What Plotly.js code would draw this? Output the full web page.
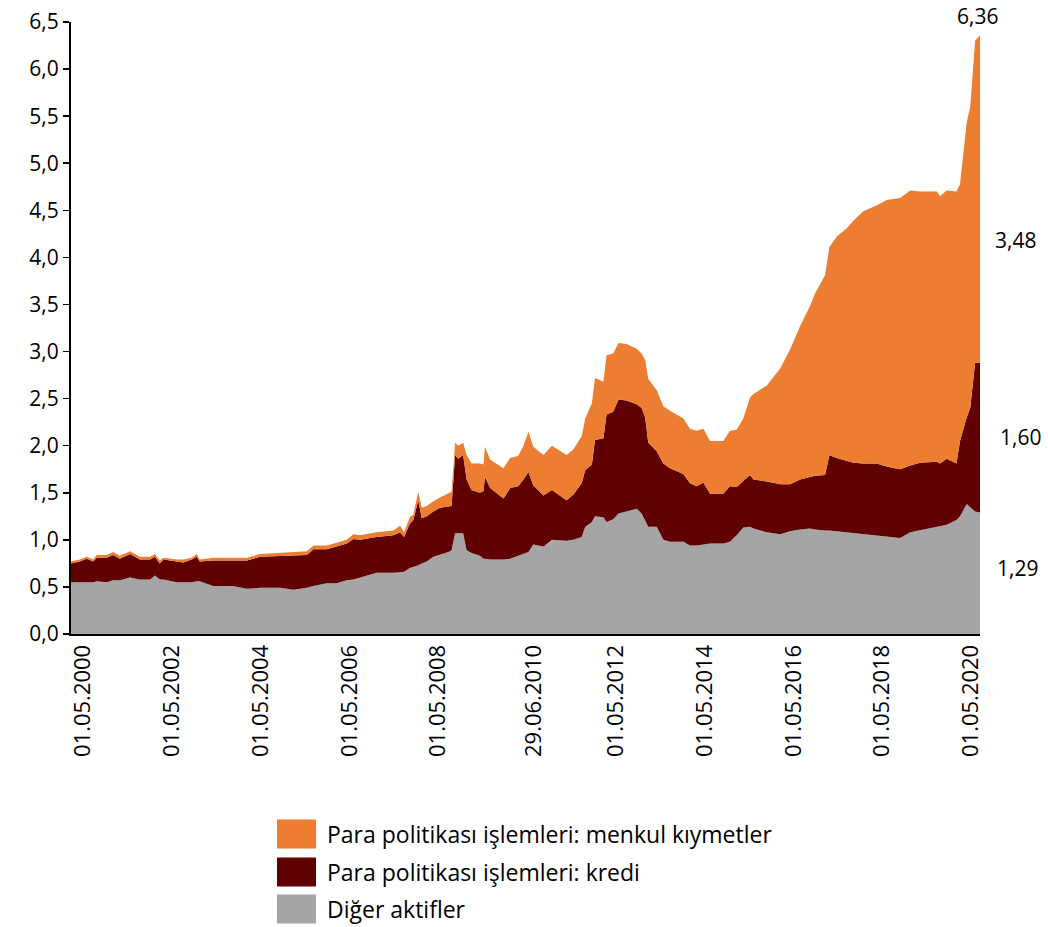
<!DOCTYPE html>
<html>
<head>
<meta charset="utf-8">
<script src="https://cdn.plot.ly/plotly-3.0.1.min.js"></script>
<style>html,body{margin:0;padding:0;background:#fff;}#chart{width:1048px;height:927px;}</style>
</head>
<body>
<div id="chart"></div>
<script>
// Dates as decimal years
const dates = [2000.06,2000.26,2000.41,2000.56,2000.64,2000.86,2001.01,2001.16,2001.39,2001.61,2001.84,2001.95,2002.06,2002.14,2002.44,2002.59,2002.78,2002.89,2002.96,2003.26,2003.71,2004.02,2004.32,2004.77,2005.07,2005.37,2005.52,2005.82,2006.04,2006.27,2006.42,2006.57,2006.94,2007.32,2007.47,2007.56,2007.69,2007.77,2007.88,2007.96,2008.07,2008.22,2008.37,2008.56,2008.63,2008.71,2008.78,2008.89,2008.97,2009.08,2009.27,2009.35,2009.38,2009.50,2009.80,2009.95,2010.13,2010.25,2010.36,2010.47,2010.70,2010.89,2011.22,2011.37,2011.56,2011.64,2011.79,2011.86,2012.05,2012.12,2012.27,2012.39,2012.57,2012.80,2012.91,2012.99,2013.06,2013.25,2013.40,2013.55,2013.85,2014.00,2014.15,2014.30,2014.45,2014.75,2014.90,2015.05,2015.20,2015.35,2015.43,2015.73,2016.03,2016.25,2016.48,2016.70,2016.81,2017.04,2017.14,2017.30,2017.53,2017.68,2017.90,2018.20,2018.43,2018.73,2018.96,2019.18,2019.56,2019.63,2019.78,2020.00,2020.08,2020.23,2020.31,2020.42,2020.53];

const digerAktifler = [0.55,0.55,0.55,0.55,0.56,0.55,0.57,0.57,0.60,0.58,0.58,0.62,0.58,0.58,0.55,0.55,0.55,0.56,0.56,0.51,0.51,0.48,0.49,0.49,0.47,0.49,0.51,0.54,0.54,0.57,0.58,0.60,0.65,0.65,0.66,0.66,0.70,0.71,0.73,0.75,0.77,0.82,0.84,0.87,0.89,1.07,1.07,1.07,0.89,0.86,0.83,0.80,0.80,0.79,0.79,0.80,0.83,0.85,0.87,0.95,0.93,1.00,0.99,1.00,1.03,1.14,1.19,1.25,1.24,1.19,1.22,1.28,1.30,1.33,1.28,1.20,1.14,1.14,1.00,0.98,0.98,0.94,0.94,0.95,0.96,0.96,0.98,1.05,1.13,1.14,1.12,1.08,1.06,1.09,1.11,1.12,1.11,1.10,1.10,1.09,1.08,1.07,1.06,1.05,1.04,1.02,1.08,1.10,1.14,1.14,1.16,1.21,1.25,1.38,1.35,1.30,1.29];

const kredi = [0.20,0.22,0.25,0.22,0.25,0.26,0.27,0.23,0.25,0.21,0.21,0.20,0.17,0.21,0.22,0.21,0.24,0.26,0.21,0.27,0.27,0.30,0.33,0.34,0.37,0.35,0.39,0.36,0.39,0.39,0.43,0.40,0.38,0.40,0.42,0.37,0.47,0.50,0.69,0.48,0.48,0.48,0.50,0.48,0.47,0.83,0.79,0.83,0.75,0.67,0.67,0.72,0.87,0.76,0.65,0.75,0.74,0.79,0.85,0.63,0.54,0.53,0.43,0.48,0.57,0.60,0.61,0.81,0.84,1.14,1.14,1.21,1.18,1.11,1.12,1.10,0.89,0.80,0.81,0.78,0.72,0.66,0.63,0.66,0.53,0.53,0.59,0.51,0.50,0.55,0.52,0.54,0.53,0.50,0.53,0.55,0.57,0.59,0.80,0.78,0.76,0.75,0.75,0.76,0.74,0.73,0.71,0.72,0.69,0.67,0.70,0.60,0.80,0.92,1.05,1.58,1.59];

const menkulKiymetler = [0.02,0.02,0.02,0.02,0.03,0.03,0.03,0.03,0.03,0.03,0.03,0.03,0.03,0.02,0.02,0.03,0.02,0.03,0.02,0.03,0.03,0.03,0.03,0.03,0.03,0.04,0.04,0.04,0.04,0.04,0.05,0.05,0.05,0.05,0.07,0.05,0.07,0.06,0.09,0.11,0.11,0.11,0.11,0.14,0.15,0.13,0.14,0.13,0.26,0.28,0.31,0.28,0.32,0.30,0.32,0.32,0.32,0.36,0.43,0.41,0.43,0.47,0.48,0.48,0.50,0.55,0.65,0.66,0.60,0.63,0.62,0.60,0.60,0.59,0.58,0.61,0.68,0.65,0.61,0.61,0.59,0.58,0.59,0.57,0.56,0.56,0.59,0.61,0.66,0.82,0.91,1.02,1.23,1.43,1.63,1.81,1.93,2.12,2.21,2.35,2.47,2.57,2.68,2.74,2.83,2.88,2.92,2.88,2.87,2.84,2.85,2.89,2.73,3.13,3.20,3.42,3.48];

const tickDates = [2000.33,2002.33,2004.33,2006.33,2008.33,2010.49,2012.33,2014.33,2016.33,2018.33,2020.33];
const tickLabels = ['01.05.2000','01.05.2002','01.05.2004','01.05.2006','01.05.2008','29.06.2010','01.05.2012','01.05.2014','01.05.2016','01.05.2018','01.05.2020'];

const seriesNames = ['Diğer aktifler','Para politikası işlemleri: kredi','Para politikası işlemleri: menkul kıymetler'];
const endLabels = ['1,29','1,60','3,48'];
const totalLabel = '6,36';

const colors = ['#A5A5A5','#600000','#ED7D31'];
const FONT = 'Open Sans, Noto Sans, sans-serif';

const seriesData = [digerAktifler, kredi, menkulKiymetler];
const traces = seriesData.map((vals, i) => ({
  type: 'scatter',
  mode: 'lines',
  x: dates,
  y: vals,
  name: seriesNames[i],
  stackgroup: 'one',
  line: {width: 0, color: colors[i]},
  fillcolor: colors[i],
  hoverinfo: 'skip',
  showlegend: false
}));

const n = dates.length - 1;
const g = digerAktifler[n], k = kredi[n], m = menkulKiymetler[n];

// plot area geometry (px) for paper-coordinate placement of legend/labels
const PL = 71, PR = 980, PT = 22, PB = 634;
const px2paper = x => (x - PL) / (PR - PL);
const py2paper = y => (PB - y) / (PB - PT);

const annYs = [0.70, 2.09, 4.18];
const annPx = [1017, 1020, 1015];
const annotations = endLabels.map((t, i) => ({
  xref: 'paper', yref: 'y', x: px2paper(annPx[i]), y: annYs[i],
  text: t, showarrow: false, xanchor: 'center', yanchor: 'middle',
  font: {family: FONT, size: 21, color: '#000'}
}));
annotations.push({
  xref: 'paper', yref: 'y', x: px2paper(977), y: g + k + m, yshift: 19,
  text: totalLabel, showarrow: false, xanchor: 'center', yanchor: 'middle',
  font: {family: FONT, size: 21, color: '#000'}
});

// custom legend (top to bottom: menkul kıymetler, kredi, diğer aktifler)
const shapes = [];
const legendOrder = [2, 1, 0];
const legendRowCenters = [834, 872, 909];
legendOrder.forEach((si, r) => {
  const cy = legendRowCenters[r];
  shapes.push({
    type: 'rect', xref: 'paper', yref: 'paper',
    x0: px2paper(277), x1: px2paper(316),
    y0: py2paper(cy + 14.5), y1: py2paper(cy - 14.5),
    fillcolor: colors[si], line: {width: 0}
  });
  annotations.push({
    xref: 'paper', yref: 'paper', x: px2paper(325), y: py2paper(cy),
    text: seriesNames[si], showarrow: false, xanchor: 'left', yanchor: 'middle',
    font: {family: FONT, size: 23, color: '#000'}
  });
});

const layout = {
  width: 1048, height: 927,
  margin: {l: PL, r: 1048 - PR, t: PT, b: 927 - PB, autoexpand: false},
  paper_bgcolor: '#fff', plot_bgcolor: '#fff',
  separators: ',.',
  showlegend: false,
  font: {family: FONT, color: '#000'},
  xaxis: {
    range: [2000.06, 2020.53], automargin: false,
    tickmode: 'array', tickvals: tickDates, ticktext: tickLabels,
    tickangle: -90, tickfont: {family: FONT, size: 22, color: '#000'},
    showgrid: false, zeroline: false,
    showline: true, linecolor: '#000', linewidth: 2,
    ticks: '', ticklen: 0
  },
  yaxis: {
    range: [0, 6.5], dtick: 0.5, tick0: 0, tickformat: '.1f', automargin: false,
    tickfont: {family: FONT, size: 21, color: '#000'},
    showgrid: false, zeroline: false,
    showline: true, linecolor: '#000', linewidth: 2,
    ticks: 'outside', ticklen: 6, tickcolor: '#000', tickwidth: 1.5
  },
  shapes: shapes,
  annotations: annotations
};

Plotly.newPlot('chart', traces, layout, {displayModeBar: false, staticPlot: true});
</script>
</body>
</html>
